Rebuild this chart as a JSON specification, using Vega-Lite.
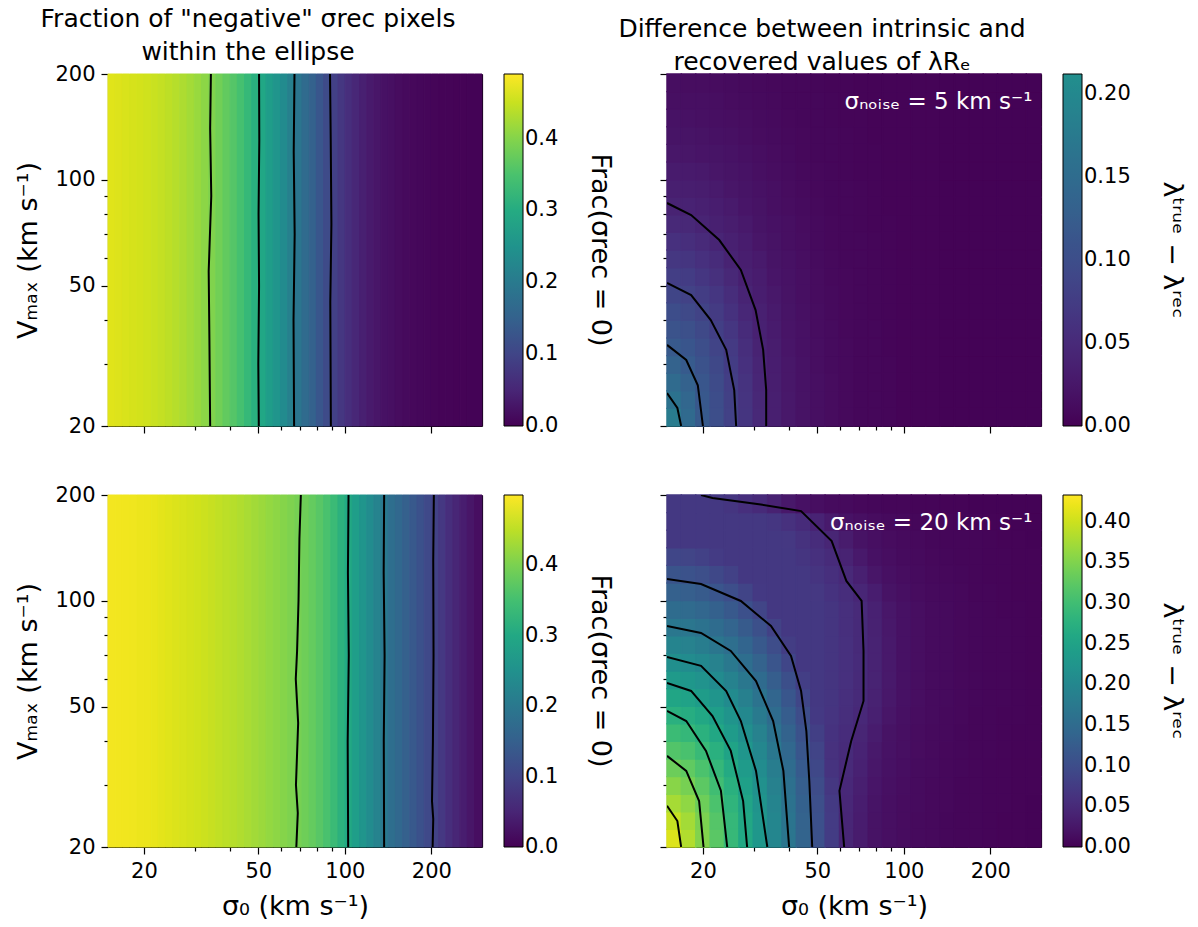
{
"$schema":"https://vega.github.io/schema/vega-lite/v6.json",
"background":"white",
"padding":{"left":14,"top":7,"right":5,"bottom":5},
"datasets":{
"xf":[{"k":0,"a":15,"b":15.889},{"k":1,"a":15.889,"b":16.83},{"k":2,"a":16.83,"b":17.827},{"k":3,"a":17.827,"b":18.884},{"k":4,"a":18.884,"b":20.003},{"k":5,"a":20.003,"b":21.19},{"k":6,"a":21.19,"b":22.44},{"k":7,"a":22.44,"b":23.77},{"k":8,"a":23.77,"b":25.18},{"k":9,"a":25.18,"b":26.67},{"k":10,"a":26.67,"b":28.25},{"k":11,"a":28.25,"b":29.93},{"k":12,"a":29.93,"b":31.7},{"k":13,"a":31.7,"b":33.58},{"k":14,"a":33.58,"b":35.57},{"k":15,"a":35.57,"b":37.68},{"k":16,"a":37.68,"b":39.91},{"k":17,"a":39.91,"b":42.27},{"k":18,"a":42.27,"b":44.77},{"k":19,"a":44.77,"b":47.43},{"k":20,"a":47.43,"b":50.24},{"k":21,"a":50.24,"b":53.22},{"k":22,"a":53.22,"b":56.37},{"k":23,"a":56.37,"b":59.72},{"k":24,"a":59.72,"b":63.25},{"k":25,"a":63.25,"b":67.0},{"k":26,"a":67.0,"b":70.96},{"k":27,"a":70.96,"b":75.18},{"k":28,"a":75.18,"b":79.62},{"k":29,"a":79.62,"b":84.35},{"k":30,"a":84.35,"b":89.34},{"k":31,"a":89.34,"b":94.64},{"k":32,"a":94.64,"b":100.24},{"k":33,"a":100.24,"b":106.19},{"k":34,"a":106.19,"b":112.47},{"k":35,"a":112.47,"b":119.15},{"k":36,"a":119.15,"b":126.19},{"k":37,"a":126.19,"b":133.69},{"k":38,"a":133.69,"b":141.59},{"k":39,"a":141.59,"b":150},{"k":40,"a":150,"b":158.87},{"k":41,"a":158.87,"b":168.3},{"k":42,"a":168.3,"b":178.25},{"k":43,"a":178.25,"b":188.84},{"k":44,"a":188.84,"b":200},{"k":45,"a":200,"b":211.89},{"k":46,"a":211.89,"b":224.42},{"k":47,"a":224.42,"b":237.74},{"k":48,"a":237.74,"b":251.79},{"k":49,"a":251.79,"b":266.75},{"k":50,"a":266.75,"b":282.52},{"k":51,"a":282.52,"b":300}],
"xc":[{"k":0,"a":15,"b":16.83},{"k":1,"a":16.83,"b":18.884},{"k":2,"a":18.884,"b":21.19},{"k":3,"a":21.19,"b":23.77},{"k":4,"a":23.77,"b":26.67},{"k":5,"a":26.67,"b":29.93},{"k":6,"a":29.93,"b":33.58},{"k":7,"a":33.58,"b":37.68},{"k":8,"a":37.68,"b":42.27},{"k":9,"a":42.27,"b":47.43},{"k":10,"a":47.43,"b":53.22},{"k":11,"a":53.22,"b":59.72},{"k":12,"a":59.72,"b":67.0},{"k":13,"a":67.0,"b":75.18},{"k":14,"a":75.18,"b":84.35},{"k":15,"a":84.35,"b":94.64},{"k":16,"a":94.64,"b":106.19},{"k":17,"a":106.19,"b":119.15},{"k":18,"a":119.15,"b":133.69},{"k":19,"a":133.69,"b":150},{"k":20,"a":150,"b":168.3},{"k":21,"a":168.3,"b":188.84},{"k":22,"a":188.84,"b":211.89},{"k":23,"a":211.89,"b":237.74},{"k":24,"a":237.74,"b":266.75},{"k":25,"a":266.75,"b":300}],
"grid":[
{"p":"TL","y0":20,"y1":200,"k":[0,1,2,3,4,5,6,7,8,9,10,11,12,13,14,15,16,17,18,19,20,21,22,23,24,25,26,27,28,29,30,31,32,33,34,35,36,37,38,39,40,41,42,43,44,45,46,47,48,49,50,51],"v":[0.467,0.465,0.462,0.46,0.458,0.455,0.451,0.447,0.442,0.437,0.43,0.423,0.415,0.406,0.397,0.385,0.372,0.36,0.345,0.328,0.31,0.291,0.272,0.254,0.234,0.211,0.19,0.169,0.15,0.13,0.11,0.092,0.077,0.064,0.052,0.042,0.033,0.027,0.021,0.017,0.014,0.011,0.009,0.007,0.006,0.005,0.004,0.004,0.003,0.003,0.002,0.002]},
{"p":"BL","y0":20,"y1":200,"k":[0,1,2,3,4,5,6,7,8,9,10,11,12,13,14,15,16,17,18,19,20,21,22,23,24,25,26,27,28,29,30,31,32,33,34,35,36,37,38,39,40,41,42,43,44,45,46,47,48,49,50,51],"v":[0.492,0.491,0.49,0.489,0.487,0.486,0.483,0.48,0.477,0.474,0.471,0.468,0.465,0.462,0.458,0.454,0.45,0.446,0.441,0.436,0.431,0.426,0.42,0.415,0.409,0.403,0.397,0.39,0.381,0.37,0.356,0.34,0.32,0.299,0.279,0.26,0.241,0.222,0.199,0.18,0.167,0.152,0.138,0.123,0.109,0.096,0.08,0.065,0.051,0.038,0.027,0.017]},
{"p":"TR","y0":20,"y1":22.44,"k":[0,1,2,3,4,5,6,7,8,9,10,11,12,13,14,15,16,17,18,19,20,21,22,23,24,25],"v":[0.179,0.146,0.121,0.101,0.082,0.065,0.048,0.035,0.026,0.020,0.015,0.012,0.009,0.007,0.006,0.005,0.003,0.003,0.003,0.002,0.002,0.002,0.002,0.002,0.002,0.002]},
{"p":"TR","y0":22.44,"y1":25.18,"k":[0,1,2,3,4,5,6,7,8,9,10,11,12,13,14,15,16,17,18,19,20,21,22,23,24,25],"v":[0.161,0.141,0.118,0.099,0.080,0.064,0.047,0.035,0.026,0.020,0.015,0.012,0.009,0.007,0.006,0.005,0.003,0.003,0.003,0.002,0.002,0.002,0.002,0.002,0.002,0.002]},
{"p":"TR","y0":25.18,"y1":28.25,"k":[0,1,2,3,4,5,6,7,8,9,10,11,12,13,14,15,16,17,18,19,20,21,22,23,24,25],"v":[0.148,0.133,0.114,0.096,0.078,0.062,0.045,0.034,0.025,0.019,0.015,0.012,0.009,0.007,0.006,0.005,0.003,0.003,0.003,0.002,0.002,0.002,0.002,0.002,0.002,0.002]},
{"p":"TR","y0":28.25,"y1":31.7,"k":[0,1,2,3,4,5,6,7,8,9,10,11,12,13,14,15,16,17,18,19,20,21,22,23,24,25],"v":[0.134,0.122,0.108,0.092,0.075,0.059,0.043,0.033,0.025,0.019,0.014,0.011,0.009,0.007,0.006,0.005,0.003,0.003,0.003,0.002,0.002,0.002,0.002,0.002,0.002,0.002]},
{"p":"TR","y0":31.7,"y1":35.57,"k":[0,1,2,3,4,5,6,7,8,9,10,11,12,13,14,15,16,17,18,19,20,21,22,23,24,25],"v":[0.120,0.113,0.101,0.086,0.071,0.056,0.040,0.032,0.023,0.018,0.014,0.011,0.009,0.007,0.006,0.004,0.003,0.003,0.003,0.002,0.002,0.002,0.002,0.002,0.002,0.002]},
{"p":"TR","y0":35.57,"y1":39.91,"k":[0,1,2,3,4,5,6,7,8,9,10,11,12,13,14,15,16,17,18,19,20,21,22,23,24,25],"v":[0.109,0.103,0.093,0.079,0.066,0.051,0.038,0.030,0.022,0.018,0.013,0.011,0.008,0.007,0.006,0.004,0.003,0.003,0.003,0.002,0.002,0.002,0.002,0.002,0.002,0.002]},
{"p":"TR","y0":39.91,"y1":44.77,"k":[0,1,2,3,4,5,6,7,8,9,10,11,12,13,14,15,16,17,18,19,20,21,22,23,24,25],"v":[0.099,0.093,0.084,0.073,0.060,0.046,0.036,0.028,0.021,0.017,0.013,0.010,0.008,0.007,0.005,0.004,0.003,0.003,0.003,0.002,0.002,0.002,0.002,0.002,0.002,0.002]},
{"p":"TR","y0":44.77,"y1":50.24,"k":[0,1,2,3,4,5,6,7,8,9,10,11,12,13,14,15,16,17,18,19,20,21,22,23,24,25],"v":[0.088,0.083,0.076,0.066,0.054,0.041,0.033,0.026,0.020,0.016,0.012,0.010,0.008,0.006,0.005,0.004,0.003,0.003,0.003,0.002,0.002,0.002,0.002,0.002,0.002,0.002]},
{"p":"TR","y0":50.24,"y1":56.37,"k":[0,1,2,3,4,5,6,7,8,9,10,11,12,13,14,15,16,17,18,19,20,21,22,23,24,25],"v":[0.078,0.074,0.067,0.058,0.047,0.037,0.031,0.023,0.019,0.015,0.012,0.009,0.008,0.006,0.005,0.004,0.003,0.003,0.003,0.002,0.002,0.002,0.002,0.002,0.002,0.002]},
{"p":"TR","y0":56.37,"y1":63.25,"k":[0,1,2,3,4,5,6,7,8,9,10,11,12,13,14,15,16,17,18,19,20,21,22,23,24,25],"v":[0.068,0.065,0.059,0.051,0.040,0.034,0.028,0.021,0.018,0.014,0.011,0.009,0.007,0.006,0.005,0.004,0.003,0.003,0.003,0.002,0.002,0.002,0.002,0.002,0.002,0.002]},
{"p":"TR","y0":63.25,"y1":70.96,"k":[0,1,2,3,4,5,6,7,8,9,10,11,12,13,14,15,16,17,18,19,20,21,22,23,24,25],"v":[0.059,0.056,0.050,0.043,0.036,0.031,0.024,0.020,0.016,0.013,0.010,0.008,0.007,0.006,0.005,0.004,0.003,0.003,0.003,0.002,0.002,0.002,0.002,0.002,0.002,0.002]},
{"p":"TR","y0":70.96,"y1":79.62,"k":[0,1,2,3,4,5,6,7,8,9,10,11,12,13,14,15,16,17,18,19,20,21,22,23,24,25],"v":[0.049,0.047,0.042,0.037,0.032,0.027,0.021,0.018,0.015,0.012,0.010,0.008,0.007,0.005,0.004,0.004,0.003,0.003,0.003,0.002,0.002,0.002,0.002,0.002,0.002,0.002]},
{"p":"TR","y0":79.62,"y1":89.34,"k":[0,1,2,3,4,5,6,7,8,9,10,11,12,13,14,15,16,17,18,19,20,21,22,23,24,25],"v":[0.040,0.039,0.036,0.033,0.028,0.023,0.020,0.016,0.013,0.011,0.009,0.007,0.006,0.005,0.004,0.003,0.003,0.003,0.003,0.002,0.002,0.002,0.002,0.002,0.002,0.002]},
{"p":"TR","y0":89.34,"y1":100.24,"k":[0,1,2,3,4,5,6,7,8,9,10,11,12,13,14,15,16,17,18,19,20,21,22,23,24,25],"v":[0.035,0.034,0.032,0.028,0.024,0.021,0.018,0.015,0.012,0.010,0.008,0.007,0.006,0.005,0.004,0.003,0.003,0.003,0.003,0.002,0.002,0.002,0.002,0.002,0.002,0.002]},
{"p":"TR","y0":100.24,"y1":112.47,"k":[0,1,2,3,4,5,6,7,8,9,10,11,12,13,14,15,16,17,18,19,20,21,22,23,24,25],"v":[0.030,0.029,0.027,0.024,0.021,0.019,0.016,0.013,0.011,0.009,0.008,0.007,0.005,0.004,0.004,0.003,0.003,0.003,0.003,0.002,0.002,0.002,0.002,0.002,0.002,0.002]},
{"p":"TR","y0":112.47,"y1":126.19,"k":[0,1,2,3,4,5,6,7,8,9,10,11,12,13,14,15,16,17,18,19,20,21,22,23,24,25],"v":[0.025,0.024,0.022,0.021,0.019,0.017,0.014,0.012,0.010,0.008,0.007,0.006,0.005,0.004,0.004,0.003,0.003,0.003,0.003,0.002,0.002,0.002,0.002,0.002,0.002,0.002]},
{"p":"TR","y0":126.19,"y1":141.59,"k":[0,1,2,3,4,5,6,7,8,9,10,11,12,13,14,15,16,17,18,19,20,21,22,23,24,25],"v":[0.021,0.021,0.020,0.018,0.017,0.014,0.012,0.011,0.009,0.008,0.007,0.006,0.005,0.004,0.003,0.003,0.003,0.003,0.003,0.002,0.002,0.002,0.002,0.002,0.002,0.002]},
{"p":"TR","y0":141.59,"y1":158.87,"k":[0,1,2,3,4,5,6,7,8,9,10,11,12,13,14,15,16,17,18,19,20,21,22,23,24,25],"v":[0.019,0.018,0.017,0.016,0.014,0.013,0.011,0.010,0.008,0.007,0.006,0.005,0.004,0.004,0.003,0.003,0.003,0.003,0.003,0.002,0.002,0.002,0.002,0.002,0.002,0.002]},
{"p":"TR","y0":158.87,"y1":178.25,"k":[0,1,2,3,4,5,6,7,8,9,10,11,12,13,14,15,16,17,18,19,20,21,22,23,24,25],"v":[0.016,0.016,0.015,0.014,0.012,0.011,0.010,0.009,0.007,0.007,0.006,0.005,0.004,0.003,0.003,0.003,0.003,0.003,0.003,0.002,0.002,0.002,0.002,0.002,0.002,0.002]},
{"p":"TR","y0":178.25,"y1":200,"k":[0,1,2,3,4,5,6,7,8,9,10,11,12,13,14,15,16,17,18,19,20,21,22,23,24,25],"v":[0.014,0.013,0.013,0.012,0.011,0.010,0.009,0.008,0.007,0.006,0.005,0.004,0.004,0.003,0.003,0.003,0.003,0.003,0.003,0.002,0.002,0.002,0.002,0.002,0.002,0.002]},
{"p":"BR","y0":20,"y1":22.44,"k":[0,1,2,3,4,5,6,7,8,9,10,11,12,13,14,15,16,17,18,19,20,21,22,23,24,25],"v":[0.411,0.383,0.352,0.322,0.291,0.260,0.229,0.198,0.168,0.137,0.106,0.075,0.044,0.031,0.020,0.016,0.012,0.010,0.009,0.007,0.006,0.005,0.004,0.003,0.003,0.002]},
{"p":"BR","y0":22.44,"y1":25.18,"k":[0,1,2,3,4,5,6,7,8,9,10,11,12,13,14,15,16,17,18,19,20,21,22,23,24,25],"v":[0.396,0.374,0.347,0.318,0.288,0.258,0.227,0.197,0.166,0.135,0.105,0.074,0.045,0.032,0.020,0.016,0.012,0.010,0.009,0.007,0.006,0.005,0.004,0.003,0.003,0.002]},
{"p":"BR","y0":25.18,"y1":28.25,"k":[0,1,2,3,4,5,6,7,8,9,10,11,12,13,14,15,16,17,18,19,20,21,22,23,24,25],"v":[0.376,0.361,0.337,0.310,0.282,0.253,0.223,0.193,0.163,0.132,0.102,0.072,0.046,0.033,0.021,0.016,0.012,0.011,0.009,0.008,0.006,0.005,0.004,0.004,0.003,0.002]},
{"p":"BR","y0":28.25,"y1":31.7,"k":[0,1,2,3,4,5,6,7,8,9,10,11,12,13,14,15,16,17,18,19,20,21,22,23,24,25],"v":[0.356,0.344,0.324,0.300,0.274,0.246,0.217,0.188,0.158,0.128,0.098,0.068,0.048,0.035,0.023,0.017,0.013,0.011,0.009,0.008,0.006,0.005,0.004,0.004,0.003,0.003]},
{"p":"BR","y0":31.7,"y1":35.57,"k":[0,1,2,3,4,5,6,7,8,9,10,11,12,13,14,15,16,17,18,19,20,21,22,23,24,25],"v":[0.336,0.327,0.310,0.288,0.263,0.237,0.209,0.181,0.152,0.123,0.093,0.063,0.050,0.038,0.025,0.018,0.014,0.011,0.010,0.008,0.007,0.005,0.004,0.004,0.003,0.003]},
{"p":"BR","y0":35.57,"y1":39.91,"k":[0,1,2,3,4,5,6,7,8,9,10,11,12,13,14,15,16,17,18,19,20,21,22,23,24,25],"v":[0.316,0.308,0.293,0.274,0.251,0.226,0.200,0.172,0.144,0.116,0.087,0.060,0.052,0.041,0.028,0.019,0.015,0.012,0.010,0.008,0.007,0.006,0.005,0.004,0.003,0.003]},
{"p":"BR","y0":39.91,"y1":44.77,"k":[0,1,2,3,4,5,6,7,8,9,10,11,12,13,14,15,16,17,18,19,20,21,22,23,24,25],"v":[0.295,0.289,0.276,0.258,0.237,0.214,0.189,0.163,0.136,0.108,0.080,0.062,0.054,0.044,0.032,0.020,0.016,0.012,0.010,0.009,0.007,0.006,0.005,0.004,0.003,0.003]},
{"p":"BR","y0":44.77,"y1":50.24,"k":[0,1,2,3,4,5,6,7,8,9,10,11,12,13,14,15,16,17,18,19,20,21,22,23,24,25],"v":[0.275,0.269,0.258,0.242,0.223,0.201,0.177,0.152,0.126,0.099,0.071,0.064,0.056,0.048,0.036,0.024,0.017,0.013,0.011,0.009,0.008,0.006,0.005,0.004,0.004,0.003]},
{"p":"BR","y0":50.24,"y1":56.37,"k":[0,1,2,3,4,5,6,7,8,9,10,11,12,13,14,15,16,17,18,19,20,21,22,23,24,25],"v":[0.255,0.249,0.239,0.225,0.207,0.186,0.164,0.140,0.115,0.089,0.070,0.066,0.058,0.051,0.039,0.026,0.018,0.014,0.011,0.010,0.008,0.007,0.005,0.005,0.004,0.003]},
{"p":"BR","y0":56.37,"y1":63.25,"k":[0,1,2,3,4,5,6,7,8,9,10,11,12,13,14,15,16,17,18,19,20,21,22,23,24,25],"v":[0.234,0.229,0.220,0.207,0.190,0.171,0.150,0.127,0.103,0.078,0.070,0.066,0.059,0.051,0.040,0.027,0.018,0.014,0.011,0.010,0.008,0.007,0.006,0.005,0.004,0.003]},
{"p":"BR","y0":63.25,"y1":70.96,"k":[0,1,2,3,4,5,6,7,8,9,10,11,12,13,14,15,16,17,18,19,20,21,22,23,24,25],"v":[0.213,0.209,0.201,0.189,0.173,0.155,0.135,0.113,0.090,0.070,0.070,0.066,0.059,0.052,0.040,0.028,0.018,0.014,0.011,0.010,0.008,0.007,0.006,0.005,0.004,0.003]},
{"p":"BR","y0":70.96,"y1":79.62,"k":[0,1,2,3,4,5,6,7,8,9,10,11,12,13,14,15,16,17,18,19,20,21,22,23,24,25],"v":[0.193,0.189,0.181,0.170,0.156,0.139,0.120,0.099,0.077,0.070,0.070,0.066,0.059,0.051,0.040,0.027,0.018,0.014,0.011,0.010,0.008,0.007,0.006,0.005,0.004,0.003]},
{"p":"BR","y0":79.62,"y1":89.34,"k":[0,1,2,3,4,5,6,7,8,9,10,11,12,13,14,15,16,17,18,19,20,21,22,23,24,25],"v":[0.172,0.169,0.162,0.151,0.138,0.122,0.104,0.084,0.070,0.070,0.070,0.066,0.058,0.051,0.039,0.026,0.018,0.014,0.011,0.010,0.008,0.007,0.005,0.005,0.004,0.003]},
{"p":"BR","y0":89.34,"y1":100.24,"k":[0,1,2,3,4,5,6,7,8,9,10,11,12,13,14,15,16,17,18,19,20,21,22,23,24,25],"v":[0.152,0.149,0.142,0.132,0.120,0.105,0.088,0.070,0.070,0.070,0.070,0.065,0.058,0.050,0.038,0.025,0.018,0.014,0.011,0.010,0.008,0.007,0.005,0.004,0.004,0.003]},
{"p":"BR","y0":100.24,"y1":112.47,"k":[0,1,2,3,4,5,6,7,8,9,10,11,12,13,14,15,16,17,18,19,20,21,22,23,24,25],"v":[0.131,0.128,0.122,0.113,0.101,0.087,0.071,0.070,0.070,0.070,0.069,0.062,0.055,0.045,0.033,0.020,0.016,0.012,0.010,0.009,0.008,0.006,0.005,0.004,0.003,0.003]},
{"p":"BR","y0":112.47,"y1":126.19,"k":[0,1,2,3,4,5,6,7,8,9,10,11,12,13,14,15,16,17,18,19,20,21,22,23,24,25],"v":[0.111,0.108,0.102,0.093,0.082,0.070,0.070,0.070,0.070,0.070,0.064,0.057,0.049,0.036,0.024,0.017,0.013,0.011,0.009,0.008,0.007,0.005,0.004,0.004,0.003,0.003]},
{"p":"BR","y0":126.19,"y1":141.59,"k":[0,1,2,3,4,5,6,7,8,9,10,11,12,13,14,15,16,17,18,19,20,21,22,23,24,25],"v":[0.090,0.088,0.082,0.074,0.070,0.070,0.070,0.070,0.070,0.066,0.059,0.052,0.040,0.027,0.018,0.014,0.011,0.010,0.008,0.007,0.006,0.005,0.004,0.004,0.003,0.003]},
{"p":"BR","y0":141.59,"y1":158.87,"k":[0,1,2,3,4,5,6,7,8,9,10,11,12,13,14,15,16,17,18,19,20,21,22,23,24,25],"v":[0.070,0.070,0.070,0.070,0.070,0.070,0.070,0.070,0.069,0.061,0.054,0.044,0.031,0.020,0.016,0.012,0.010,0.009,0.007,0.006,0.005,0.005,0.004,0.003,0.003,0.002]},
{"p":"BR","y0":158.87,"y1":178.25,"k":[0,1,2,3,4,5,6,7,8,9,10,11,12,13,14,15,16,17,18,19,20,21,22,23,24,25],"v":[0.070,0.070,0.070,0.070,0.070,0.070,0.070,0.067,0.060,0.052,0.041,0.029,0.019,0.015,0.012,0.010,0.009,0.007,0.006,0.005,0.004,0.004,0.003,0.003,0.002,0.002]},
{"p":"BR","y0":178.25,"y1":200,"k":[0,1,2,3,4,5,6,7,8,9,10,11,12,13,14,15,16,17,18,19,20,21,22,23,24,25],"v":[0.070,0.070,0.070,0.070,0.066,0.058,0.051,0.039,0.026,0.018,0.014,0.011,0.010,0.008,0.007,0.005,0.005,0.004,0.004,0.003,0.003,0.002,0.002,0.002,0.002,0.002]}
],
"lines":[
{"p":"TL","c":1,"i":0,"s":34.2,"m":200},{"p":"TL","c":1,"i":1,"s":34.0,"m":140},{"p":"TL","c":1,"i":2,"s":34.3,"m":90},{"p":"TL","c":1,"i":3,"s":33.6,"m":55},{"p":"TL","c":1,"i":4,"s":33.8,"m":35},{"p":"TL","c":1,"i":5,"s":34.0,"m":20},
{"p":"TL","c":2,"i":0,"s":50.3,"m":200},{"p":"TL","c":2,"i":1,"s":50.4,"m":130},{"p":"TL","c":2,"i":2,"s":50.1,"m":80},{"p":"TL","c":2,"i":3,"s":50.3,"m":50},{"p":"TL","c":2,"i":4,"s":50.0,"m":30},{"p":"TL","c":2,"i":5,"s":50.2,"m":20},
{"p":"TL","c":3,"i":0,"s":66.8,"m":200},{"p":"TL","c":3,"i":1,"s":66.4,"m":120},{"p":"TL","c":3,"i":2,"s":66.9,"m":70},{"p":"TL","c":3,"i":3,"s":66.3,"m":40},{"p":"TL","c":3,"i":4,"s":66.6,"m":20},
{"p":"TL","c":4,"i":0,"s":88.8,"m":200},{"p":"TL","c":4,"i":1,"s":89.3,"m":130},{"p":"TL","c":4,"i":2,"s":89.8,"m":75},{"p":"TL","c":4,"i":3,"s":89.0,"m":45},{"p":"TL","c":4,"i":4,"s":89.4,"m":20},
{"p":"BL","c":1,"i":0,"s":70.3,"m":200},{"p":"BL","c":1,"i":1,"s":69.5,"m":150},{"p":"BL","c":1,"i":2,"s":69.0,"m":100},{"p":"BL","c":1,"i":3,"s":68.2,"m":72},{"p":"BL","c":1,"i":4,"s":67.5,"m":60},{"p":"BL","c":1,"i":5,"s":68.8,"m":45},{"p":"BL","c":1,"i":6,"s":67.6,"m":30},{"p":"BL","c":1,"i":7,"s":68.6,"m":25},{"p":"BL","c":1,"i":8,"s":67.8,"m":20},
{"p":"BL","c":2,"i":0,"s":103,"m":200},{"p":"BL","c":2,"i":1,"s":102.5,"m":120},{"p":"BL","c":2,"i":2,"s":103.2,"m":70},{"p":"BL","c":2,"i":3,"s":102.3,"m":40},{"p":"BL","c":2,"i":4,"s":102.7,"m":20},
{"p":"BL","c":3,"i":0,"s":137,"m":200},{"p":"BL","c":3,"i":1,"s":136.5,"m":120},{"p":"BL","c":3,"i":2,"s":137.5,"m":70},{"p":"BL","c":3,"i":3,"s":136.6,"m":40},{"p":"BL","c":3,"i":4,"s":137,"m":20},
{"p":"BL","c":4,"i":0,"s":204,"m":200},{"p":"BL","c":4,"i":1,"s":203,"m":130},{"p":"BL","c":4,"i":2,"s":203.5,"m":70},{"p":"BL","c":4,"i":3,"s":202.5,"m":40},{"p":"BL","c":4,"i":4,"s":201,"m":27},{"p":"BL","c":4,"i":5,"s":203,"m":24},{"p":"BL","c":4,"i":6,"s":202,"m":20},
{"p":"TR","c":1,"i":0,"s":15,"m":86},{"p":"TR","c":1,"i":1,"s":18.2,"m":79.5},{"p":"TR","c":1,"i":2,"s":22.8,"m":67.5},{"p":"TR","c":1,"i":3,"s":27.1,"m":55.5},{"p":"TR","c":1,"i":4,"s":30.5,"m":42.7},{"p":"TR","c":1,"i":5,"s":32.4,"m":32.9},{"p":"TR","c":1,"i":6,"s":33.2,"m":25.3},{"p":"TR","c":1,"i":7,"s":33.2,"m":20},
{"p":"TR","c":2,"i":0,"s":15,"m":51},{"p":"TR","c":2,"i":1,"s":18.2,"m":47.1},{"p":"TR","c":2,"i":2,"s":21.3,"m":40},{"p":"TR","c":2,"i":3,"s":24.1,"m":32.9},{"p":"TR","c":2,"i":4,"s":25.7,"m":25.3},{"p":"TR","c":2,"i":5,"s":26.1,"m":20},
{"p":"TR","c":3,"i":0,"s":15,"m":34},{"p":"TR","c":3,"i":1,"s":17.5,"m":30.8},{"p":"TR","c":3,"i":2,"s":19.2,"m":26.1},{"p":"TR","c":3,"i":3,"s":19.7,"m":22.1},{"p":"TR","c":3,"i":4,"s":20,"m":20},
{"p":"TR","c":4,"i":0,"s":15,"m":24.8},{"p":"TR","c":4,"i":1,"s":16.3,"m":22.5},{"p":"TR","c":4,"i":2,"s":16.8,"m":20},
{"p":"BR","c":1,"i":0,"s":19.7,"m":200},{"p":"BR","c":1,"i":1,"s":21.6,"m":196},{"p":"BR","c":1,"i":2,"s":31.8,"m":188},{"p":"BR","c":1,"i":3,"s":43.9,"m":180},{"p":"BR","c":1,"i":4,"s":56.1,"m":148},{"p":"BR","c":1,"i":5,"s":63.1,"m":114},{"p":"BR","c":1,"i":6,"s":71.3,"m":100},{"p":"BR","c":1,"i":7,"s":72.4,"m":72.1},{"p":"BR","c":1,"i":8,"s":72.4,"m":52},{"p":"BR","c":1,"i":9,"s":65.6,"m":40},{"p":"BR","c":1,"i":10,"s":59.7,"m":28.9},{"p":"BR","c":1,"i":11,"s":62,"m":20},
{"p":"BR","c":2,"i":0,"s":15,"m":115.4},{"p":"BR","c":2,"i":1,"s":19.7,"m":111.7},{"p":"BR","c":2,"i":2,"s":27.1,"m":100},{"p":"BR","c":2,"i":3,"s":34.5,"m":84.9},{"p":"BR","c":2,"i":4,"s":40.5,"m":69.8},{"p":"BR","c":2,"i":5,"s":43.9,"m":55.5},{"p":"BR","c":2,"i":6,"s":45.8,"m":42.7},{"p":"BR","c":2,"i":7,"s":46.9,"m":30.8},{"p":"BR","c":2,"i":8,"s":48,"m":20},
{"p":"BR","c":3,"i":0,"s":15,"m":84.9},{"p":"BR","c":3,"i":1,"s":19.7,"m":81.1},{"p":"BR","c":3,"i":2,"s":25,"m":72.1},{"p":"BR","c":3,"i":3,"s":30.6,"m":59.2},{"p":"BR","c":3,"i":4,"s":35.1,"m":45.6},{"p":"BR","c":3,"i":5,"s":38.1,"m":32.9},{"p":"BR","c":3,"i":6,"s":39.9,"m":20},
{"p":"BR","c":4,"i":0,"s":15,"m":69.3},{"p":"BR","c":4,"i":1,"s":19.7,"m":65.4},{"p":"BR","c":4,"i":2,"s":24.1,"m":55.5},{"p":"BR","c":4,"i":3,"s":27.1,"m":45.6},{"p":"BR","c":4,"i":4,"s":30.6,"m":32.9},{"p":"BR","c":4,"i":5,"s":33.5,"m":20},
{"p":"BR","c":5,"i":0,"s":15,"m":58.5},{"p":"BR","c":5,"i":1,"s":18.2,"m":55.5},{"p":"BR","c":5,"i":2,"s":21.6,"m":47.1},{"p":"BR","c":5,"i":3,"s":25,"m":37.5},{"p":"BR","c":5,"i":4,"s":27.6,"m":27},{"p":"BR","c":5,"i":5,"s":28.5,"m":20},
{"p":"BR","c":6,"i":0,"s":15,"m":48.7},{"p":"BR","c":6,"i":1,"s":17.5,"m":45.6},{"p":"BR","c":6,"i":2,"s":20.5,"m":37.5},{"p":"BR","c":6,"i":3,"s":23.1,"m":28.9},{"p":"BR","c":6,"i":4,"s":24.3,"m":20},
{"p":"BR","c":7,"i":0,"s":15,"m":36.3},{"p":"BR","c":7,"i":1,"s":17.5,"m":32.9},{"p":"BR","c":7,"i":2,"s":19.4,"m":27},{"p":"BR","c":7,"i":3,"s":20.1,"m":20},
{"p":"BR","c":8,"i":0,"s":15,"m":26.2},{"p":"BR","c":8,"i":1,"s":16.3,"m":23.7},{"p":"BR","c":8,"i":2,"s":16.8,"m":20}
]
},
"columns":2,
"spacing":{"row":69,"column":185},
"bounds":"flush",
"concat":[
{"width":374,"height":352,
 "title":{"text":["Fraction of \"negative\" σrec pixels","within the ellipse"],"dx":-47},
 "resolve":{"axis":{"x":"independent","y":"independent"}},
 "layer":[
 {"data":{"name":"grid"},"transform":[{"filter":"datum.p==='TL'"},{"flatten":["k","v"]},{"lookup":"k","from":{"data":{"name":"xf"},"key":"k","fields":["a","b"]}}],
  "mark":{"type":"rect","strokeWidth":1},
  "encoding":{
   "x":{"field":"a","type":"quantitative","scale":{"type":"log","domain":[15,300],"nice":false},"axis":{"orient":"bottom","values":[30,40,60,70,80,90],"tickSize":4,"labels":false,"title":null}},
   "x2":{"field":"b"},
   "y":{"field":"y0","type":"quantitative","scale":{"type":"log","domain":[20,200],"nice":false},"axis":{"orient":"left","values":[30,40,60,70,80,90],"tickSize":4,"labels":false,"title":null}},
   "y2":{"field":"y1"},
   "color":{"field":"v","type":"quantitative","scale":{"scheme":"viridis","domain":[-0.0001,0.49]},"legend":{"type":"gradient","title":null,"values":[0,0.1,0.2,0.3,0.4],"format":".1f"}},
   "stroke":{"field":"v","type":"quantitative","scale":{"scheme":"viridis","domain":[0,0.49]},"legend":null}}},
 {"data":{"name":"lines"},"transform":[{"filter":"datum.p==='TL'"}],
  "mark":{"type":"line","color":"black","strokeWidth":2,"clip":true},
  "encoding":{"x":{"field":"s","type":"quantitative","axis":{"orient":"top","ticks":false,"labels":false,"title":null}},"y":{"field":"m","type":"quantitative","axis":{"orient":"right","ticks":false,"labels":false,"title":null}},"detail":{"field":"c"},"order":{"field":"i"}}},
 {"data":{"values":[{}]},
  "mark":{"type":"text","text":"Frac(σrec = 0)","angle":90,"fontSize":27,"color":"black","align":"center","baseline":"middle"},
  "encoding":{"x":{"datum":771,"type":"quantitative","axis":{"orient":"bottom","values":[20,50,100,200],"domain":false,"labels":false,"title":null}},"y":{"datum":63.25,"type":"quantitative","axis":{"orient":"left","values":[20,50,100,200],"domain":false,"format":"d","title":"Vₘₐₓ (km s⁻¹)"}}}}
 ]},
{"width":374,"height":352,
 "title":{"text":["Difference between intrinsic and","recovered values of λRₑ"],"dx":-32},
 "resolve":{"axis":{"x":"independent","y":"independent"}},
 "layer":[
 {"data":{"name":"grid"},"transform":[{"filter":"datum.p==='TR'"},{"flatten":["k","v"]},{"lookup":"k","from":{"data":{"name":"xc"},"key":"k","fields":["a","b"]}}],
  "mark":{"type":"rect","strokeWidth":1.4},
  "encoding":{
   "x":{"field":"a","type":"quantitative","scale":{"type":"log","domain":[15,300],"nice":false},"axis":{"orient":"bottom","values":[30,40,60,70,80,90],"tickSize":4,"labels":false,"title":null}},
   "x2":{"field":"b"},
   "y":{"field":"y0","type":"quantitative","scale":{"type":"log","domain":[20,200],"nice":false},"axis":{"orient":"left","values":[30,40,60,70,80,90],"tickSize":4,"labels":false,"title":null}},
   "y2":{"field":"y1"},
   "color":{"field":"v","type":"quantitative","scale":{"scheme":{"name":"viridis","extent":[0,0.493]},"domain":[-0.0001,0.212]},"legend":{"type":"gradient","title":null,"values":[0,0.05,0.1,0.15,0.2],"format":".2f"}},
   "stroke":{"field":"v","type":"quantitative","scale":{"scheme":{"name":"viridis","extent":[0,0.493]},"domain":[0,0.212]},"legend":null}}},
 {"data":{"name":"lines"},"transform":[{"filter":"datum.p==='TR'"}],
  "mark":{"type":"line","color":"black","strokeWidth":2,"clip":true},
  "encoding":{"x":{"field":"s","type":"quantitative","axis":{"orient":"top","ticks":false,"labels":false,"title":null}},"y":{"field":"m","type":"quantitative","axis":{"orient":"right","ticks":false,"labels":false,"title":null}},"detail":{"field":"c"},"order":{"field":"i"}}},
 {"data":{"values":[{}]},
  "mark":{"type":"text","text":"λᵗʳᵘᵉ − λʳᵉᶜ","angle":90,"fontSize":27,"color":"black","align":"center","baseline":"middle"},
  "encoding":{"x":{"datum":857,"type":"quantitative","axis":{"orient":"bottom","values":[20,50,100,200],"domain":false,"labels":false,"title":null}},"y":{"datum":63.25,"type":"quantitative","axis":{"orient":"left","values":[20,50,100,200],"domain":false,"labels":false,"title":null}}}},
 {"data":{"values":[{}]},
  "mark":{"type":"text","text":"σₙₒᵢₛₑ = 5 km s⁻¹","color":"white","fontSize":23,"align":"right","baseline":"middle"},
  "encoding":{"x":{"datum":280,"type":"quantitative","axis":null},"y":{"datum":166,"type":"quantitative","axis":null}}}
 ]},
{"width":374,"height":352,
 "resolve":{"axis":{"x":"independent","y":"independent"}},
 "layer":[
 {"data":{"name":"grid"},"transform":[{"filter":"datum.p==='BL'"},{"flatten":["k","v"]},{"lookup":"k","from":{"data":{"name":"xf"},"key":"k","fields":["a","b"]}}],
  "mark":{"type":"rect","strokeWidth":1},
  "encoding":{
   "x":{"field":"a","type":"quantitative","scale":{"type":"log","domain":[15,300],"nice":false},"axis":{"orient":"bottom","values":[30,40,60,70,80,90],"tickSize":4,"labels":false,"title":null}},
   "x2":{"field":"b"},
   "y":{"field":"y0","type":"quantitative","scale":{"type":"log","domain":[20,200],"nice":false},"axis":{"orient":"left","values":[30,40,60,70,80,90],"tickSize":4,"labels":false,"title":null}},
   "y2":{"field":"y1"},
   "color":{"field":"v","type":"quantitative","scale":{"scheme":"viridis","domain":[-0.0001,0.5]},"legend":{"type":"gradient","title":null,"values":[0,0.1,0.2,0.3,0.4],"format":".1f"}},
   "stroke":{"field":"v","type":"quantitative","scale":{"scheme":"viridis","domain":[0,0.5]},"legend":null}}},
 {"data":{"name":"lines"},"transform":[{"filter":"datum.p==='BL'"}],
  "mark":{"type":"line","color":"black","strokeWidth":2,"clip":true},
  "encoding":{"x":{"field":"s","type":"quantitative","axis":{"orient":"top","ticks":false,"labels":false,"title":null}},"y":{"field":"m","type":"quantitative","axis":{"orient":"right","ticks":false,"labels":false,"title":null}},"detail":{"field":"c"},"order":{"field":"i"}}},
 {"data":{"values":[{}]},
  "mark":{"type":"text","text":"Frac(σrec = 0)","angle":90,"fontSize":27,"color":"black","align":"center","baseline":"middle"},
  "encoding":{"x":{"datum":771,"type":"quantitative","axis":{"orient":"bottom","values":[20,50,100,200],"domain":false,"format":"d","title":"σ₀ (km s⁻¹)"}},"y":{"datum":63.25,"type":"quantitative","axis":{"orient":"left","values":[20,50,100,200],"domain":false,"format":"d","title":"Vₘₐₓ (km s⁻¹)"}}}}
 ]},
{"width":374,"height":352,
 "resolve":{"axis":{"x":"independent","y":"independent"}},
 "layer":[
 {"data":{"name":"grid"},"transform":[{"filter":"datum.p==='BR'"},{"flatten":["k","v"]},{"lookup":"k","from":{"data":{"name":"xc"},"key":"k","fields":["a","b"]}}],
  "mark":{"type":"rect","strokeWidth":1.4},
  "encoding":{
   "x":{"field":"a","type":"quantitative","scale":{"type":"log","domain":[15,300],"nice":false},"axis":{"orient":"bottom","values":[30,40,60,70,80,90],"tickSize":4,"labels":false,"title":null}},
   "x2":{"field":"b"},
   "y":{"field":"y0","type":"quantitative","scale":{"type":"log","domain":[20,200],"nice":false},"axis":{"orient":"left","values":[30,40,60,70,80,90],"tickSize":4,"labels":false,"title":null}},
   "y2":{"field":"y1"},
   "color":{"field":"v","type":"quantitative","scale":{"scheme":"viridis","domain":[-0.0001,0.433]},"legend":{"type":"gradient","title":null,"values":[0,0.05,0.1,0.15,0.2,0.25,0.3,0.35,0.4],"format":".2f"}},
   "stroke":{"field":"v","type":"quantitative","scale":{"scheme":"viridis","domain":[0,0.433]},"legend":null}}},
 {"data":{"name":"lines"},"transform":[{"filter":"datum.p==='BR'"}],
  "mark":{"type":"line","color":"black","strokeWidth":2,"clip":true},
  "encoding":{"x":{"field":"s","type":"quantitative","axis":{"orient":"top","ticks":false,"labels":false,"title":null}},"y":{"field":"m","type":"quantitative","axis":{"orient":"right","ticks":false,"labels":false,"title":null}},"detail":{"field":"c"},"order":{"field":"i"}}},
 {"data":{"values":[{}]},
  "mark":{"type":"text","text":"λᵗʳᵘᵉ − λʳᵉᶜ","angle":90,"fontSize":27,"color":"black","align":"center","baseline":"middle"},
  "encoding":{"x":{"datum":857,"type":"quantitative","axis":{"orient":"bottom","values":[20,50,100,200],"domain":false,"format":"d","title":"σ₀ (km s⁻¹)"}},"y":{"datum":63.25,"type":"quantitative","axis":{"orient":"left","values":[20,50,100,200],"domain":false,"labels":false,"title":null}}}},
 {"data":{"values":[{}]},
  "mark":{"type":"text","text":"σₙₒᵢₛₑ = 20 km s⁻¹","color":"white","fontSize":23,"align":"right","baseline":"middle"},
  "encoding":{"x":{"datum":280,"type":"quantitative","axis":null},"y":{"datum":166,"type":"quantitative","axis":null}}}
 ]}
],
"resolve":{"scale":{"color":"independent","stroke":"independent","x":"independent","y":"independent"},"legend":{"color":"independent"}},
"config":{
 "font":"DejaVu Sans",
 "view":{"stroke":null},
 "axis":{"labelFontSize":21,"labelColor":"black","tickColor":"black","tickSize":7,"tickWidth":1.2,"domain":true,"domainColor":"black","domainWidth":1.2,"grid":false,"titleFontSize":27,"titleFontWeight":"normal","titleColor":"black","labelPadding":6,"titlePadding":12,"zindex":1},
 "legend":{"gradientLength":352,"gradientThickness":19,"gradientStrokeColor":"black","gradientStrokeWidth":1,"labelFontSize":21,"labelColor":"black","offset":22,"labelOverlap":false,"padding":0,"direction":"vertical","labelOffset":11,"labelBaseline":"middle"},
 "title":{"fontSize":25,"fontWeight":"normal","color":"black","anchor":"middle","frame":"group","offset":-2,"lineHeight":33}
}
}
